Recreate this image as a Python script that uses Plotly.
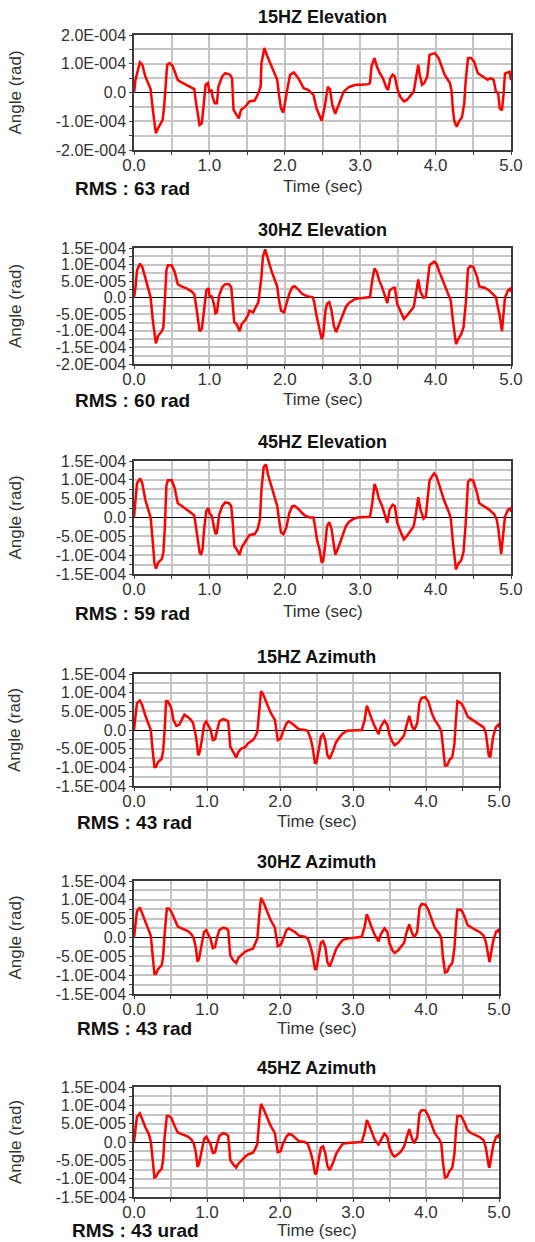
import plotly.graph_objects as go

# angles are given in units of 1e-4 rad, time in seconds

t_el15 = [0, 0.02, 0.078, 0.11, 0.15, 0.19, 0.22, 0.25, 0.28, 0.29,
          0.32, 0.345, 0.38, 0.40, 0.42, 0.44, 0.47, 0.51, 0.54, 0.58,
          0.63, 0.69, 0.76, 0.80, 0.82, 0.84, 0.87, 0.90, 0.93, 0.95,
          0.98, 1.00, 1.03, 1.04, 1.07, 1.10, 1.12, 1.17, 1.21, 1.27,
          1.30, 1.32, 1.36, 1.39, 1.42, 1.47, 1.53, 1.60, 1.64, 1.68,
          1.69, 1.73, 1.76, 1.81, 1.86, 1.90, 1.92, 1.95, 1.98, 2.01,
          2.04, 2.07, 2.12, 2.18, 2.25, 2.31, 2.38, 2.42, 2.46, 2.49,
          2.53, 2.57, 2.60, 2.63, 2.67, 2.72, 2.78, 2.85, 2.94, 3.02,
          3.11, 3.13, 3.15, 3.19, 3.22, 3.26, 3.30, 3.35, 3.37, 3.40,
          3.43, 3.46, 3.49, 3.53, 3.58, 3.62, 3.67, 3.71, 3.74, 3.77,
          3.79, 3.82, 3.85, 3.89, 3.92, 3.99, 4.04, 4.08, 4.12, 4.19,
          4.21, 4.23, 4.25, 4.28, 4.31, 4.35, 4.38, 4.40, 4.43, 4.47,
          4.51, 4.56, 4.62, 4.69, 4.73, 4.77, 4.80, 4.83, 4.85, 4.88,
          4.90, 4.92, 4.98, 5.0]
a_el15 = [0, 0.44, 1.05, 0.97, 0.56, 0.33, 0.12, -0.6, -1.3, -1.42,
          -1.24, -1.13, -0.95, -0.49, 0.44, 0.97, 1.02, 0.93, 0.73, 0.44,
          0.35, 0.27, 0.19, 0.12, -0.31, -0.6, -1.13, -1.07, -0.37, 0.27,
          0.33, 0.03, 0.09, -0.14, -0.37, -0.37, 0.21, 0.56, 0.67, 0.62,
          0.5, -0.6, -0.78, -0.9, -0.6, -0.51, -0.31, -0.28, -0.08, 0.21,
          1.02, 1.55, 1.31, 1.02, 0.73, 0.44, -0.02, -0.55, -0.7, -0.31,
          0.21, 0.62, 0.7, 0.5, 0.15, 0.09, -0.08, -0.55, -0.78, -0.98,
          -0.49, 0.19, 0.12, -0.43, -0.74, -0.37, 0.03, 0.19, 0.27, 0.27,
          0.29, 0.33, 0.91, 1.2, 0.91, 0.67, 0.5, 0.15, 0.09, 0.5,
          0.62, 0.56, 0.15, -0.14, -0.31, -0.26, -0.08, 0.03, 0.5, 0.97,
          0.62, 0.27, 0.33, 0.56, 1.31, 1.37, 1.2, 0.91, 0.62, 0.33,
          0.09, -0.6, -1.01, -1.19, -1.01, -0.86, -0.37, 0.44, 1.2, 1.2,
          1.08, 0.67, 0.56, 0.44, 0.5, 0.44, 0.03, -0.02, -0.55, -0.62,
          -0.1, 0.66, 0.72, 0.43]

t_el30 = [0, 0.02, 0.04, 0.08, 0.11, 0.15, 0.19, 0.22, 0.25, 0.27,
          0.29, 0.32, 0.37, 0.39, 0.41, 0.43, 0.45, 0.50, 0.54, 0.58,
          0.63, 0.69, 0.76, 0.80, 0.82, 0.84, 0.87, 0.90, 0.93, 0.96,
          0.99, 1.00, 1.03, 1.06, 1.08, 1.10, 1.13, 1.17, 1.21, 1.26,
          1.29, 1.31, 1.33, 1.36, 1.40, 1.43, 1.47, 1.51, 1.53, 1.58,
          1.62, 1.65, 1.69, 1.71, 1.74, 1.77, 1.82, 1.86, 1.90, 1.92,
          1.95, 1.99, 2.02, 2.06, 2.10, 2.13, 2.17, 2.23, 2.27, 2.31,
          2.37, 2.39, 2.42, 2.45, 2.49, 2.51, 2.54, 2.56, 2.59, 2.62,
          2.65, 2.68, 2.72, 2.77, 2.81, 2.85, 2.90, 2.94, 3.03, 3.13,
          3.16, 3.19, 3.22, 3.25, 3.29, 3.33, 3.36, 3.39, 3.43, 3.46,
          3.49, 3.54, 3.58, 3.62, 3.67, 3.71, 3.74, 3.77, 3.80, 3.84,
          3.87, 3.90, 3.92, 3.98, 4.01, 4.05, 4.11, 4.17, 4.20, 4.23,
          4.25, 4.27, 4.30, 4.34, 4.37, 4.40, 4.43, 4.46, 4.50, 4.55,
          4.58, 4.65, 4.71, 4.75, 4.80, 4.82, 4.85, 4.88, 4.92, 4.96,
          4.99, 5.0]
a_el30 = [0, 0.32, 0.83, 1.03, 0.93, 0.58, 0.27, 0.02, -0.69, -1.1,
          -1.38, -1.15, -1.01, -0.89, -0.18, 0.83, 0.98, 0.98, 0.78, 0.41,
          0.34, 0.29, 0.2, 0.1, -0.18, -0.59, -1.01, -0.94, -0.39, 0.22,
          0.29, 0.07, 0.04, -0.18, -0.47, -0.44, 0.07, 0.32, 0.41, 0.41,
          0.32, -0.18, -0.74, -0.79, -1.01, -0.79, -0.69, -0.54, -0.39, -0.44,
          -0.28, -0.13, 0.63, 1.24, 1.46, 1.19, 0.83, 0.58, 0.34, -0.03,
          -0.39, -0.44, -0.23, 0.12, 0.32, 0.35, 0.27, 0.12, 0.07, 0.04,
          0.02, -0.13, -0.54, -0.84, -1.25, -1.1, -0.39, -0.18, -0.13, -0.39,
          -0.84, -1.04, -0.79, -0.49, -0.28, -0.16, -0.08, -0.03, -0.01, 0.02,
          0.53, 0.88, 0.78, 0.53, 0.32, 0.02, -0.16, 0.22, 0.29, 0.3,
          -0.18, -0.44, -0.64, -0.54, -0.39, -0.28, 0.12, 0.55, 0.17, 0.0,
          0.02, 0.53, 0.98, 1.09, 1.03, 0.78, 0.43, 0.12, -0.08, -0.69,
          -1.1, -1.4, -1.25, -1.1, -0.89, -0.18, 0.88, 0.95, 0.93, 0.63,
          0.34, 0.3, 0.22, 0.14, 0.02, -0.23, -0.54, -1.01, 0.0, 0.22,
          0.27, 0.17]

t_el45 = [0, 0.02, 0.04, 0.08, 0.11, 0.15, 0.19, 0.22, 0.25, 0.27,
          0.29, 0.32, 0.37, 0.39, 0.41, 0.43, 0.45, 0.50, 0.54, 0.58,
          0.63, 0.69, 0.76, 0.80, 0.82, 0.84, 0.87, 0.89, 0.91, 0.93,
          0.96, 0.99, 1.00, 1.03, 1.06, 1.08, 1.10, 1.13, 1.17, 1.21,
          1.26, 1.29, 1.31, 1.33, 1.36, 1.40, 1.43, 1.47, 1.51, 1.53,
          1.60, 1.64, 1.67, 1.69, 1.72, 1.75, 1.78, 1.82, 1.86, 1.90,
          1.92, 1.95, 1.98, 2.02, 2.06, 2.10, 2.13, 2.17, 2.23, 2.27,
          2.33, 2.38, 2.40, 2.43, 2.46, 2.49, 2.51, 2.53, 2.56, 2.59,
          2.62, 2.65, 2.67, 2.72, 2.77, 2.81, 2.85, 2.90, 2.96, 3.13,
          3.16, 3.19, 3.22, 3.25, 3.29, 3.33, 3.36, 3.39, 3.43, 3.46,
          3.49, 3.54, 3.58, 3.62, 3.67, 3.71, 3.74, 3.77, 3.80, 3.84,
          3.87, 3.90, 3.92, 3.98, 4.01, 4.05, 4.11, 4.17, 4.20, 4.23,
          4.25, 4.27, 4.30, 4.34, 4.37, 4.40, 4.43, 4.46, 4.50, 4.55,
          4.58, 4.65, 4.71, 4.78, 4.81, 4.83, 4.87, 4.92, 4.96, 4.99,
          5.0]
a_el45 = [0, 0.47, 0.91, 1.04, 0.91, 0.47, 0.21, 0.0, -0.66, -1.19,
          -1.36, -1.2, -1.1, -0.92, -0.23, 0.86, 0.99, 0.99, 0.78, 0.38,
          0.31, 0.23, 0.12, 0.05, -0.23, -0.49, -0.92, -0.99, -0.84, -0.31,
          0.18, 0.25, 0.12, 0.05, -0.23, -0.44, -0.4, 0.08, 0.3, 0.4,
          0.38, 0.3, -0.14, -0.75, -0.84, -0.99, -0.79, -0.66, -0.56, -0.47,
          -0.44, -0.31, -0.05, 0.73, 1.34, 1.41, 1.12, 0.86, 0.58, 0.3,
          0.0, -0.4, -0.44, -0.27, 0.12, 0.3, 0.31, 0.25, 0.12, 0.05,
          0.0, 0.0, -0.23, -0.62, -0.84, -1.2, -1.14, -0.84, -0.23, -0.12,
          -0.31, -0.75, -0.99, -0.75, -0.47, -0.23, -0.12, -0.05, 0.0, 0.02,
          0.38, 0.89, 0.73, 0.49, 0.31, 0.03, -0.14, 0.21, 0.34, 0.3,
          -0.14, -0.4, -0.58, -0.49, -0.36, -0.23, 0.12, 0.54, 0.21, -0.03,
          0.03, 0.56, 0.99, 1.17, 1.1, 0.86, 0.47, 0.17, 0.0, -0.66,
          -1.1, -1.38, -1.23, -1.14, -0.92, -0.14, 0.95, 1.01, 0.98, 0.65,
          0.38, 0.3, 0.21, 0.08, -0.05, -0.27, -0.97, 0.02, 0.21, 0.24,
          0.15]

t_az15 = [0, 0.02, 0.04, 0.08, 0.11, 0.16, 0.20, 0.23, 0.26, 0.28,
          0.30, 0.33, 0.38, 0.40, 0.42, 0.44, 0.46, 0.49, 0.51, 0.54,
          0.58, 0.62, 0.65, 0.69, 0.74, 0.78, 0.81, 0.83, 0.85, 0.88,
          0.90, 0.93, 0.96, 0.99, 1.02, 1.05, 1.08, 1.11, 1.14, 1.17,
          1.22, 1.26, 1.29, 1.32, 1.36, 1.40, 1.43, 1.47, 1.52, 1.56,
          1.63, 1.66, 1.69, 1.72, 1.74, 1.77, 1.83, 1.87, 1.93, 1.95,
          1.97, 2.01, 2.04, 2.09, 2.12, 2.16, 2.21, 2.26, 2.34, 2.38,
          2.42, 2.45, 2.48, 2.50, 2.53, 2.56, 2.59, 2.62, 2.65, 2.68,
          2.73, 2.77, 2.82, 2.86, 2.92, 3.12, 3.16, 3.19, 3.22, 3.25,
          3.30, 3.35, 3.38, 3.43, 3.47, 3.50, 3.54, 3.57, 3.62, 3.66,
          3.70, 3.73, 3.77, 3.81, 3.84, 3.88, 3.91, 3.94, 3.99, 4.03,
          4.08, 4.12, 4.18, 4.21, 4.23, 4.26, 4.29, 4.32, 4.36, 4.39,
          4.41, 4.43, 4.48, 4.52, 4.57, 4.62, 4.68, 4.74, 4.79, 4.82,
          4.86, 4.88, 4.92, 4.96, 4.99, 5.0]
a_az15 = [0, 0.36, 0.72, 0.79, 0.68, 0.36, 0.18, 0.0, -0.63, -0.99,
          -0.99, -0.86, -0.77, -0.54, 0.0, 0.77, 0.78, 0.65, 0.59, 0.27,
          0.11, 0.14, 0.27, 0.41, 0.34, 0.27, 0.18, 0.0, -0.18, -0.68,
          -0.59, -0.27, 0.14, 0.23, 0.09, 0.0, -0.27, -0.25, 0.0, 0.23,
          0.29, 0.27, 0.23, -0.45, -0.59, -0.74, -0.59, -0.5, -0.47, -0.36,
          -0.27, -0.18, -0.05, 0.63, 1.04, 0.95, 0.63, 0.47, 0.27, 0.0,
          -0.27, -0.23, -0.05, 0.18, 0.23, 0.18, 0.11, 0.02, 0.0, -0.02,
          -0.23, -0.5, -0.9, -0.86, -0.54, -0.18, -0.11, -0.27, -0.68, -0.77,
          -0.54, -0.32, -0.18, -0.09, -0.02, 0.0, 0.27, 0.65, 0.5, 0.32,
          0.09, -0.11, 0.09, 0.25, 0.14, -0.14, -0.32, -0.41, -0.34, -0.23,
          -0.14, 0.09, 0.38, 0.09, 0.0, 0.18, 0.72, 0.86, 0.88, 0.77,
          0.45, 0.27, 0.09, -0.05, -0.5, -0.95, -0.95, -0.81, -0.72, -0.36,
          0.27, 0.77, 0.72, 0.59, 0.36, 0.29, 0.23, 0.14, 0.07, -0.09,
          -0.68, -0.73, -0.18, 0.09, 0.14, 0.07]

# the 30HZ and 45HZ azimuth traces were read at the same instants
t_az30_45 = [0, 0.02, 0.04, 0.08, 0.11, 0.16, 0.20, 0.23, 0.26, 0.28,
             0.30, 0.33, 0.38, 0.40, 0.42, 0.45, 0.48, 0.51, 0.56, 0.60,
             0.67, 0.74, 0.79, 0.82, 0.85, 0.87, 0.89, 0.93, 0.96, 0.99,
             1.02, 1.05, 1.08, 1.11, 1.14, 1.17, 1.22, 1.26, 1.29, 1.32,
             1.36, 1.40, 1.43, 1.47, 1.52, 1.56, 1.63, 1.66, 1.69, 1.72,
             1.74, 1.77, 1.83, 1.87, 1.93, 1.95, 1.97, 2.01, 2.04, 2.09,
             2.12, 2.16, 2.21, 2.26, 2.34, 2.38, 2.42, 2.45, 2.48, 2.50,
             2.53, 2.56, 2.59, 2.62, 2.65, 2.68, 2.73, 2.77, 2.82, 2.86,
             2.92, 3.12, 3.16, 3.19, 3.22, 3.25, 3.30, 3.35, 3.38, 3.43,
             3.47, 3.50, 3.54, 3.57, 3.62, 3.66, 3.70, 3.73, 3.77, 3.81,
             3.84, 3.88, 3.91, 3.94, 3.99, 4.03, 4.08, 4.12, 4.18, 4.21,
             4.23, 4.26, 4.29, 4.32, 4.36, 4.39, 4.41, 4.43, 4.48, 4.52,
             4.57, 4.62, 4.68, 4.74, 4.79, 4.82, 4.86, 4.87, 4.92, 4.96,
             4.99, 5.0]
a_az30 = [0, 0.38, 0.69, 0.8, 0.65, 0.38, 0.2, 0.05, -0.57, -0.97,
          -0.97, -0.84, -0.73, -0.48, 0.11, 0.77, 0.77, 0.69, 0.47, 0.29,
          0.23, 0.17, 0.08, -0.03, -0.3, -0.64, -0.57, -0.16, 0.15, 0.2,
          0.06, -0.05, -0.28, -0.25, 0.02, 0.2, 0.26, 0.24, 0.2, -0.48,
          -0.61, -0.68, -0.54, -0.47, -0.38, -0.34, -0.3, -0.16, -0.03, 0.69,
          1.05, 0.95, 0.63, 0.47, 0.26, 0.0, -0.23, -0.2, -0.03, 0.2,
          0.24, 0.2, 0.14, 0.05, 0.02, -0.03, -0.25, -0.48, -0.86, -0.82,
          -0.48, -0.14, -0.1, -0.25, -0.66, -0.77, -0.52, -0.3, -0.16, -0.07,
          -0.03, 0.02, 0.29, 0.62, 0.47, 0.29, 0.06, -0.1, 0.08, 0.24,
          0.15, -0.16, -0.34, -0.41, -0.34, -0.25, -0.14, 0.11, 0.35, 0.11,
          0.0, 0.15, 0.78, 0.89, 0.87, 0.74, 0.44, 0.26, 0.11, -0.03,
          -0.48, -0.93, -0.91, -0.77, -0.68, -0.27, 0.33, 0.74, 0.74, 0.59,
          0.33, 0.26, 0.2, 0.14, 0.05, -0.12, -0.61, -0.65, -0.1, 0.16,
          0.2, 0.12]
a_az45 = [0, 0.42, 0.69, 0.78, 0.62, 0.38, 0.23, 0.02, -0.57, -0.97,
          -0.95, -0.84, -0.73, -0.46, 0.15, 0.71, 0.71, 0.66, 0.42, 0.26,
          0.2, 0.15, 0.06, -0.05, -0.32, -0.68, -0.61, -0.21, 0.08, 0.14,
          0.02, -0.07, -0.3, -0.28, -0.03, 0.17, 0.24, 0.22, 0.17, -0.5,
          -0.61, -0.7, -0.59, -0.5, -0.41, -0.34, -0.29, -0.19, -0.05, 0.69,
          1.04, 0.92, 0.61, 0.45, 0.24, -0.03, -0.28, -0.25, -0.05, 0.15,
          0.22, 0.2, 0.11, 0.02, 0.0, -0.05, -0.28, -0.52, -0.88, -0.84,
          -0.48, -0.16, -0.12, -0.3, -0.66, -0.77, -0.55, -0.32, -0.16, -0.05,
          -0.03, 0.0, 0.27, 0.6, 0.47, 0.29, 0.05, -0.07, 0.06, 0.23,
          0.14, -0.16, -0.34, -0.4, -0.33, -0.25, -0.12, 0.11, 0.35, 0.08,
          -0.03, 0.14, 0.77, 0.87, 0.86, 0.72, 0.43, 0.24, 0.08, -0.05,
          -0.52, -0.97, -0.95, -0.8, -0.7, -0.32, 0.29, 0.71, 0.71, 0.56,
          0.32, 0.24, 0.19, 0.13, 0.05, -0.16, -0.66, -0.7, -0.1, 0.14,
          0.18, 0.1]

titles = ["15HZ Elevation", "30HZ Elevation", "45HZ Elevation",
          "15HZ Azimuth", "30HZ Azimuth", "45HZ Azimuth"]
rms_texts = ["RMS : 63 rad", "RMS : 60 rad", "RMS : 59 rad",
             "RMS : 43 rad", "RMS : 43 rad", "RMS : 43 urad"]

x_ticks = [0, 0.5, 1, 1.5, 2, 2.5, 3, 3.5, 4, 4.5, 5]
x_labels = ["0.0", "", "1.0", "", "2.0", "", "3.0", "", "4.0", "", "5.0"]

y_ticks_a = [-2, -1.5, -1, -0.5, 0, 0.5, 1, 1.5, 2]
y_labels_a = ["-2.0E-004", "", "-1.0E-004", "", "0.0", "", "1.0E-004", "", "2.0E-004"]
y_ticks_b = [-2, -1.75, -1.5, -1.25, -1, -0.75, -0.5, -0.25, 0,
             0.25, 0.5, 0.75, 1, 1.25, 1.5]
y_labels_b = ["-2.0E-004", "", "-1.5E-004", "", "-1.0E-004", "", "-5.0E-005", "",
              "0.0", "", "5.0E-005", "", "1.0E-004", "", "1.5E-004"]
y_ticks_c = y_ticks_b[2:]
y_labels_c = y_labels_b[2:]

series = [(t_el15, a_el15), (t_el30, a_el30), (t_el45, a_el45),
          (t_az15, a_az15), (t_az30_45, a_az30), (t_az30_45, a_az45)]
for t, a in series:
    assert len(t) == len(a), (len(t), len(a))

W, H = 535, 1242
# plot boxes in pixels: left, right, top, bottom
boxes = [(134, 511, 35, 150), (134, 511, 248, 364), (134, 511, 461, 574),
         (134, 499, 674, 786), (134, 499, 881, 994), (134, 499, 1087, 1197)]
yset = [([-2, 2], y_ticks_a, y_labels_a), ([-2, 1.5], y_ticks_b, y_labels_b),
        ([-1.5, 1.5], y_ticks_c, y_labels_c), ([-1.5, 1.5], y_ticks_c, y_labels_c),
        ([-1.5, 1.5], y_ticks_c, y_labels_c), ([-1.5, 1.5], y_ticks_c, y_labels_c)]
title_y = [17, 230, 442, 657, 862, 1068]
rms_y = [188, 400, 613, 823, 1028, 1230]
rms_x = [73, 73, 73, 75, 75, 70]
time_y = [186, 399, 611, 821, 1028, 1230]

FONT = "Liberation Sans, Arial, sans-serif"
GRID = "#c4c4c4"
AXIS = "#3c3c3c"

fig = go.Figure()
annotations = []
layout = {}
for i, ((t, a), (l, r, top, bot)) in enumerate(zip(series, boxes)):
    n = "" if i == 0 else str(i + 1)
    fig.add_trace(go.Scatter(x=t, y=a, mode="lines", xaxis="x" + n, yaxis="y" + n,
                             line=dict(color="#ff0000", width=2.5), showlegend=False,
                             hoverinfo="skip"))
    yr, yt, yl = yset[i]
    layout["xaxis" + n] = dict(
        domain=[l / W, r / W], anchor="y" + n, range=[0, 5], automargin=False,
        tickmode="array", tickvals=x_ticks, ticktext=x_labels,
        showgrid=True, gridcolor=GRID, gridwidth=1.5,
        showline=True, mirror=True, linecolor=AXIS, linewidth=1.5,
        ticks="outside", ticklen=3, tickcolor=AXIS, zeroline=False,
        tickfont=dict(family=FONT, size=17, color="#333333"),
        ticklabelstandoff=-4, fixedrange=True)
    layout["yaxis" + n] = dict(
        domain=[1 - bot / H, 1 - top / H], anchor="x" + n, range=yr, automargin=False,
        tickmode="array", tickvals=yt, ticktext=yl,
        showgrid=True, gridcolor=GRID, gridwidth=1.5,
        showline=True, mirror=True, linecolor=AXIS, linewidth=1.5,
        ticks="outside", ticklen=3, tickcolor=AXIS,
        zeroline=True, zerolinecolor="#000000", zerolinewidth=1.2,
        tickfont=dict(family=FONT, size=16, color="#333333"), fixedrange=True)
    cx = (l + r) / 2 / W
    annotations += [
        dict(text="<b>" + titles[i] + "</b>", x=cx, y=1 - title_y[i] / H,
             font=dict(family=FONT, size=18, color="#111111")),
        dict(text="Time (sec)", x=cx, y=1 - time_y[i] / H,
             font=dict(family=FONT, size=17, color="#333333")),
        dict(text="<b>" + rms_texts[i] + "</b>", x=rms_x[i] / W, y=1 - rms_y[i] / H,
             xanchor="left", font=dict(family=FONT, size=19, color="#111111")),
        dict(text="Angle (rad)", x=15 / W, y=1 - (top + bot) / 2 / H, textangle=-90,
             font=dict(family=FONT, size=17, color="#333333")),
    ]

for ann in annotations:
    ann.update(xref="paper", yref="paper", showarrow=False)
    ann.setdefault("xanchor", "center")
    ann["yanchor"] = "middle"

fig.update_layout(width=W, height=H, margin=dict(l=0, r=0, t=0, b=0),
                  paper_bgcolor="white", plot_bgcolor="white",
                  annotations=annotations, **layout)
# drop the browser's default page margin so the figure sits at the window corner
fig.write_html("out.html", config={"displayModeBar": False},
               post_script="document.body.style.margin = '0px';")
